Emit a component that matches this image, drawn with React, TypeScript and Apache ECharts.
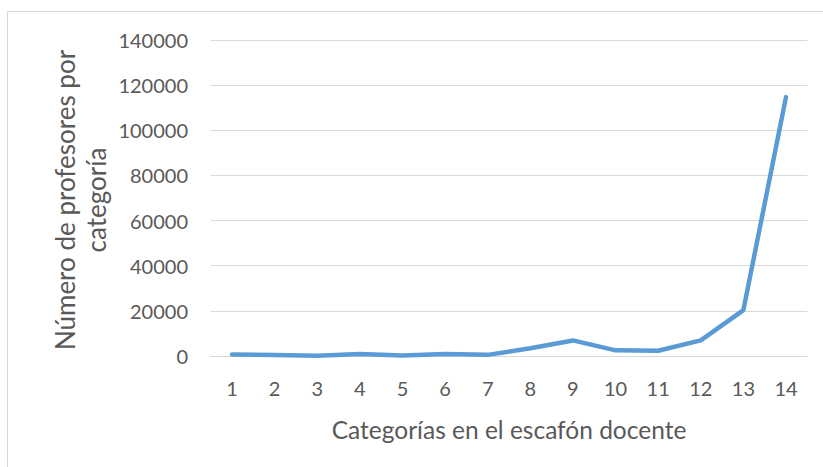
import React, { useEffect, useRef } from "react";
import * as echarts from "echarts";

const categories = ["1", "2", "3", "4", "5", "6", "7", "8", "9", "10", "11", "12", "13", "14"];
const profesores = [700, 450, 150, 900, 200, 900, 500, 3400, 6900, 2500, 2300, 6900, 20300, 114700];
const yTitleLines = ["Número de profesores por", "categoría"];
const xTitle = "Categorías en el escafón docente";

const FONT = "Lato, 'Open Sans', sans-serif";
const TEXT = "#595959";

export default function App() {
  const ref = useRef<HTMLDivElement>(null);
  useEffect(() => {
    if (!ref.current) return;
    const chart = echarts.init(ref.current, null, { renderer: "svg" });
    chart.setOption({
      animation: false,
      backgroundColor: "#ffffff",
      grid: { left: 210.7, right: 15.7, top: 40, bottom: 111, containLabel: false },
      xAxis: {
        type: "category",
        data: categories,
        boundaryGap: true,
        axisLine: { show: true, lineStyle: { color: "#D9D9D9", width: 1 } },
        axisTick: { show: false },
        axisLabel: { color: TEXT, fontFamily: FONT, fontSize: 20, margin: 22 },
      },
      yAxis: {
        type: "value",
        min: 0,
        max: 140000,
        interval: 20000,
        axisLine: { show: false },
        axisTick: { show: false },
        axisLabel: {
          color: TEXT,
          fontFamily: FONT,
          fontSize: 20,
          margin: 22.7,
          formatter: (v: number) => String(v),
        },
        splitLine: { lineStyle: { color: "#D9D9D9", width: 1 } },
      },
      series: [
        {
          type: "line",
          data: profesores,
          symbol: "none",
          lineStyle: { color: "#5B9BD5", width: 4.5, cap: "round", join: "round" },
          itemStyle: { color: "#5B9BD5" },
        },
      ],
      graphic: [
        {
          type: "rect",
          shape: { x: 7.5, y: 11.5, width: 830, height: 470 },
          style: { fill: "none", stroke: "#D9D9D9", lineWidth: 1 },
          silent: true,
        },
        {
          type: "text",
          x: 65,
          y: 200,
          rotation: Math.PI / 2,
          style: {
            text: yTitleLines[0],
            fill: TEXT,
            font: `26px ${FONT}`,
            textAlign: "center",
            textVerticalAlign: "middle",
          },
        },
        {
          type: "text",
          x: 96,
          y: 200,
          rotation: Math.PI / 2,
          style: {
            text: yTitleLines[1],
            fill: TEXT,
            font: `26px ${FONT}`,
            textAlign: "center",
            textVerticalAlign: "middle",
          },
        },
        {
          type: "text",
          x: 509,
          y: 429,
          style: {
            text: xTitle,
            fill: TEXT,
            font: `24.5px ${FONT}`,
            textAlign: "center",
            textVerticalAlign: "middle",
          },
        },
      ],
    });
    return () => chart.dispose();
  }, []);
  return (
    <div
      ref={ref}
      style={{ position: "fixed", left: 0, top: 0, width: 823, height: 467 }}
    />
  );
}
